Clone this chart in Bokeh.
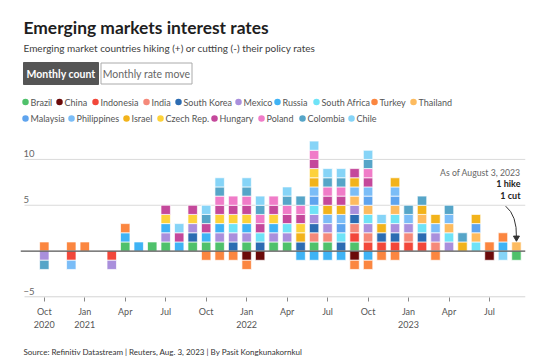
from bokeh.plotting import figure
from bokeh.layouts import column
from bokeh.models import (ColumnDataSource, FixedTicker, Label, Span, Range1d)
from bokeh.embed import file_html
from bokeh.resources import INLINE
from bokeh.core.properties import value

FONT = "Lato"

countries = ["Brazil", "China", "Indonesia", "India", "South Korea", "Mexico",
             "Russia", "South Africa", "Turkey", "Thailand", "Malaysia",
             "Philippines", "Israel", "Czech Rep.", "Hungary", "Poland",
             "Colombia", "Chile"]
colors = ["#4fc16b", "#6b0a0a", "#f2473a", "#f5897a", "#2c6cb2", "#a98fdc",
          "#3fb3f5", "#6fe3f7", "#fb8640", "#fdbb5f", "#5fa4ee", "#7bbdf7",
          "#f2b31b", "#fdd23a", "#c4489b", "#f07cc8", "#56a5c8", "#86d4f7"]

# data months (each bar is drawn at the end of its month)
months = ["2020-09", "2020-10", "2020-11", "2020-12", "2021-01", "2021-02",
          "2021-03", "2021-04", "2021-05", "2021-06", "2021-07", "2021-08",
          "2021-09", "2021-10", "2021-11", "2021-12", "2022-01", "2022-02",
          "2022-03", "2022-04", "2022-05", "2022-06", "2022-07", "2022-08",
          "2022-09", "2022-10", "2022-11", "2022-12", "2023-01", "2023-02",
          "2023-03", "2023-04", "2023-05", "2023-06", "2023-07", "2023-08"]

hikes = [
    ["Turkey"],
    [],
    ["Turkey"],
    ["Turkey"],
    [],
    [],
    ["Brazil", "Russia", "Turkey"],
    ["Russia"],
    ["Brazil"],
    ["Brazil", "Mexico", "Russia", "Czech Rep.", "Hungary"],
    ["Russia", "Hungary", "Chile"],
    ["Brazil", "South Korea", "Mexico", "Czech Rep.", "Hungary"],
    ["Brazil", "Russia", "Hungary", "Colombia", "Chile"],
    ["Brazil", "Mexico", "Russia", "Czech Rep.", "Hungary", "Poland", "Colombia", "Chile"],
    ["South Korea", "Mexico", "South Africa", "Czech Rep.", "Hungary", "Poland"],
    ["Brazil", "Mexico", "Russia", "Czech Rep.", "Hungary", "Poland", "Colombia", "Chile"],
    ["South Korea", "South Africa", "Hungary", "Poland", "Colombia", "Chile"],
    ["Brazil", "Mexico", "Russia", "Czech Rep.", "Hungary", "Poland"],
    ["Brazil", "Mexico", "South Africa", "Hungary", "Poland", "Colombia", "Chile"],
    ["South Korea", "Israel", "Czech Rep.", "Hungary", "Poland", "Colombia"],
    ["Brazil", "India", "South Korea", "Mexico", "South Africa", "Malaysia",
     "Philippines", "Israel", "Czech Rep.", "Hungary", "Poland", "Chile"],
    ["Brazil", "India", "Mexico", "Philippines", "Israel", "Hungary", "Poland",
     "Colombia", "Chile"],
    ["South Korea", "South Africa", "Malaysia", "Philippines", "Israel", "Hungary",
     "Poland", "Colombia", "Chile"],
    ["Brazil", "Indonesia", "India", "South Korea", "Mexico", "Thailand",
     "Philippines", "Israel", "Hungary"],
    ["Indonesia", "India", "Mexico", "South Africa", "Thailand", "Malaysia",
     "Philippines", "Hungary", "Poland", "Colombia", "Chile"],
    ["Indonesia", "South Korea", "Israel", "Chile"],
    ["Indonesia", "South Korea", "Mexico", "South Africa", "Thailand", "Malaysia",
     "Philippines", "Israel"],
    ["Indonesia", "India", "Mexico", "Philippines", "Colombia"],
    ["Indonesia", "South Korea", "South Africa", "Thailand", "Israel", "Colombia"],
    ["India", "Mexico", "Philippines", "Israel"],
    ["Mexico", "South Africa", "Thailand", "Philippines", "Colombia"],
    ["Israel", "Colombia"],
    ["South Africa", "Thailand", "Malaysia", "Israel"],
    ["Turkey"],
    ["Russia", "Turkey"],
    ["Thailand"],
]

cuts = [
    ["Mexico", "Colombia"], [], ["Indonesia", "Philippines"], [], [],
    ["Indonesia", "Mexico"], [], [], [], [], [], [],
    ["Turkey"], ["Turkey"], ["Turkey"], ["China", "Turkey"], ["China"], [],
    [], ["Russia"], ["Russia"], ["Russia"], ["Russia"], ["China", "Turkey"],
    ["Russia", "Turkey"], ["Turkey"], ["Turkey"], [], [], ["Turkey"],
    [], [], [], ["China"], ["Chile"], ["Brazil"],
]

tick_months = ["2020-10", "2021-01", "2021-04", "2021-07", "2021-10", "2022-01",
               "2022-04", "2022-07", "2022-10", "2023-01", "2023-04", "2023-07"]
tick_labels = ["Oct\n2020", "Jan\n2021", "Apr", "Jul", "Oct", "Jan\n2022",
               "Apr", "Jul", "Oct", "Jan\n2023", "Apr", "Jul"]
grid_values = [10, 5]
ytick_values = [10, 5, -5]
ytick_labels = ["10", "5", "\u22125"]

# legend layout (page pixels of each dot)
legend_rows = [countries[:10], countries[10:]]
legend_dot_x = [[25, 59, 95, 146, 178, 238, 277, 316, 374, 413],
                [25, 71, 126, 160, 214, 261, 302, 351]]
legend_row_y = [101.5, 118]


def month_index(m):
    y, mo = m.split("-")
    return (int(y) - 2020) * 12 + int(mo) - 9   # Sep 2020 -> 0


def bar_pos(m):
    # end of data month == start of the following month
    return month_index(m)


def tick_pos(m):
    return month_index(m) - 1


color_of = dict(zip(countries, colors))
order = {c: i for i, c in enumerate(countries)}

BL, BR = 20, 25          # common left / right borders of every panel
W = 550

# ---------------- header ----------------
HH = 136
hdr = figure(width=W, height=HH, x_range=Range1d(BL, W - BR), y_range=Range1d(HH, 0),
             output_backend="svg", toolbar_location=None,
             x_axis_location=None, y_axis_location=None,
             min_border_left=BL, min_border_right=BR, min_border_top=0,
             min_border_bottom=0)
hdr.outline_line_color = None
hdr.grid.visible = False
hdr.text(x=[23], y=[27], text=["Emerging markets interest rates"],
         text_font=value(FONT), text_font_size="17.4px", text_font_style="bold",
         text_color="#1e1e1e", text_baseline="alphabetic")
hdr.text(x=[23], y=[47.5],
         text=["Emerging market countries hiking (+) or cutting (-) their policy rates"],
         text_font=value(FONT), text_font_size="10px", text_color="#404040",
         text_baseline="alphabetic")
hdr.quad(left=[23], right=[98], top=[62], bottom=[84], fill_color="#555555",
         line_color="#555555")
hdr.quad(left=[100.5], right=[191.5], top=[62.5], bottom=[83.5], fill_color="white",
         line_color="#aaaaaa", line_width=1)
hdr.text(x=[60.5], y=[73.5], text=["Monthly count"], text_font=value(FONT),
         text_font_size="10.5px", text_font_style="bold", text_color="white",
         text_align="center", text_baseline="middle")
hdr.text(x=[146], y=[73.5], text=["Monthly rate move"], text_font=value(FONT),
         text_font_size="10.5px", text_color="#666666",
         text_align="center", text_baseline="middle")
for names_row, xs_row, y_row in zip(legend_rows, legend_dot_x, legend_row_y):
    hdr.scatter(x=xs_row, y=[y_row] * len(xs_row), size=6.5, marker="circle",
                fill_color=[color_of[n] for n in names_row], line_color=None)
    hdr.text(x=[x + 5 for x in xs_row], y=[y_row] * len(xs_row), text=names_row,
             text_font=value(FONT), text_font_size="9px", text_color="#555555",
             text_baseline="middle")

# ---------------- chart ----------------
xs, bottoms, tops, cols, names = [], [], [], [], []
for m, h, c in zip(months, hikes, cuts):
    x = bar_pos(m)
    for j, name in enumerate(sorted(h, key=order.get)):
        xs.append(x); bottoms.append(j); tops.append(j + 1)
        cols.append(color_of[name]); names.append(name)
    for j, name in enumerate(sorted(c, key=order.get)):
        xs.append(x); bottoms.append(-j - 1); tops.append(-j)
        cols.append(color_of[name]); names.append(name)

src = ColumnDataSource(dict(x=xs, bottom=bottoms, top=tops, color=cols, country=names))

PX_PER_MONTH = 13.49
X0 = -(43.8 - BL) / PX_PER_MONTH
X1 = X0 + (W - BL - BR) / PX_PER_MONTH
GX0 = X0 + 4 / PX_PER_MONTH          # gridlines start 4px right of the frame edge
CH = 203
p = figure(width=W, height=CH, output_backend="svg", toolbar_location=None,
           x_range=Range1d(X0, X1), y_range=Range1d(-5.06, 12.5),
           y_axis_location=None,
           min_border_left=BL, min_border_right=BR, min_border_top=0,
           min_border_bottom=42)
p.outline_line_color = None
p.background_fill_color = "white"
p.border_fill_color = "white"
p.xgrid.visible = False
p.ygrid.visible = False

ax = p.xaxis[0]
ax.ticker = FixedTicker(ticks=[tick_pos(m) for m in tick_months])
ax.major_label_overrides = {tick_pos(m): lab for m, lab in zip(tick_months, tick_labels)}
ax.axis_line_color = None
ax.major_tick_line_color = "#888888"
ax.major_tick_in = 0
ax.major_tick_out = 4
ax.minor_tick_line_color = None
ax.major_label_text_font = FONT
ax.major_label_text_font_size = "9px"
ax.major_label_text_color = "#555555"
ax.major_label_standoff = 4

# gridlines and baseline of the value axis
p.segment(x0=[GX0] * len(grid_values), x1=[X1] * len(grid_values),
          y0=grid_values, y1=grid_values, line_color="#dadada", line_width=1)
p.segment(x0=[GX0], x1=[X1], y0=[-5], y1=[-5], line_color="#c8c8c8", line_width=1)

p.vbar(x="x", width=0.7, bottom="bottom", top="top", fill_color="color",
       line_color="white", line_width=0.7, source=src)

p.add_layout(Span(location=0, dimension="width", line_color="#555555", line_width=1.3))

p.text(x=[GX0] * len(ytick_values), y=ytick_values, text=ytick_labels,
       text_font=value(FONT), text_font_size="9.5px", text_color="#666666",
       text_baseline="bottom", text_align="left", x_offset=-1, y_offset=-2)

# annotation for latest month (frame-relative screen units)
FB = 161
def sx(px):
    return px - BL
def sy(py):
    return FB - (py - HH)

last_x = bar_pos(months[-1])
last_top = len(hikes[-1])
p.add_layout(Label(x=sx(520), y=sy(177), x_units="screen", y_units="screen",
                   text="As of August 3, 2023", text_font=FONT, text_font_size="8.7px",
                   text_color="#666666", text_align="right"))
p.add_layout(Label(x=sx(520), y=sy(188.5), x_units="screen", y_units="screen",
                   text="1 hike", text_font=FONT, text_font_size="9px",
                   text_font_style="bold", text_color="#222222", text_align="right"))
p.add_layout(Label(x=sx(520), y=sy(200), x_units="screen", y_units="screen",
                   text="1 cut", text_font=FONT, text_font_size="9px",
                   text_font_style="bold", text_color="#222222", text_align="right"))
p.quadratic(x0=[last_x - 0.8], y0=[last_top + 3.9], x1=[last_x], y1=[last_top + 0.45],
            cx=[last_x + 0.05], cy=[last_top + 2.9], line_color="#333333", line_width=1)
p.scatter(x=[last_x], y=[last_top + 0.45], marker="inverted_triangle", size=6,
          fill_color="#333333", line_color="#333333")

# ---------------- footer ----------------
FH = 363 - HH - CH
ftr = figure(width=W, height=FH, x_range=Range1d(BL, W - BR), y_range=Range1d(FH, 0),
             output_backend="svg", toolbar_location=None,
             x_axis_location=None, y_axis_location=None,
             min_border_left=BL, min_border_right=BR, min_border_top=0,
             min_border_bottom=0)
ftr.outline_line_color = None
ftr.grid.visible = False
ftr.text(x=[23], y=[351 - (HH + CH)],
         text=["Source: Refinitiv Datastream | Reuters, Aug. 3, 2023 | By Pasit Kongkunakornkul"],
         text_font=value(FONT), text_font_size="8px", text_color="#333333",
         text_baseline="alphabetic")

layout = column(hdr, p, ftr, spacing=0)
open("out.html", "w").write(file_html(layout, INLINE))
